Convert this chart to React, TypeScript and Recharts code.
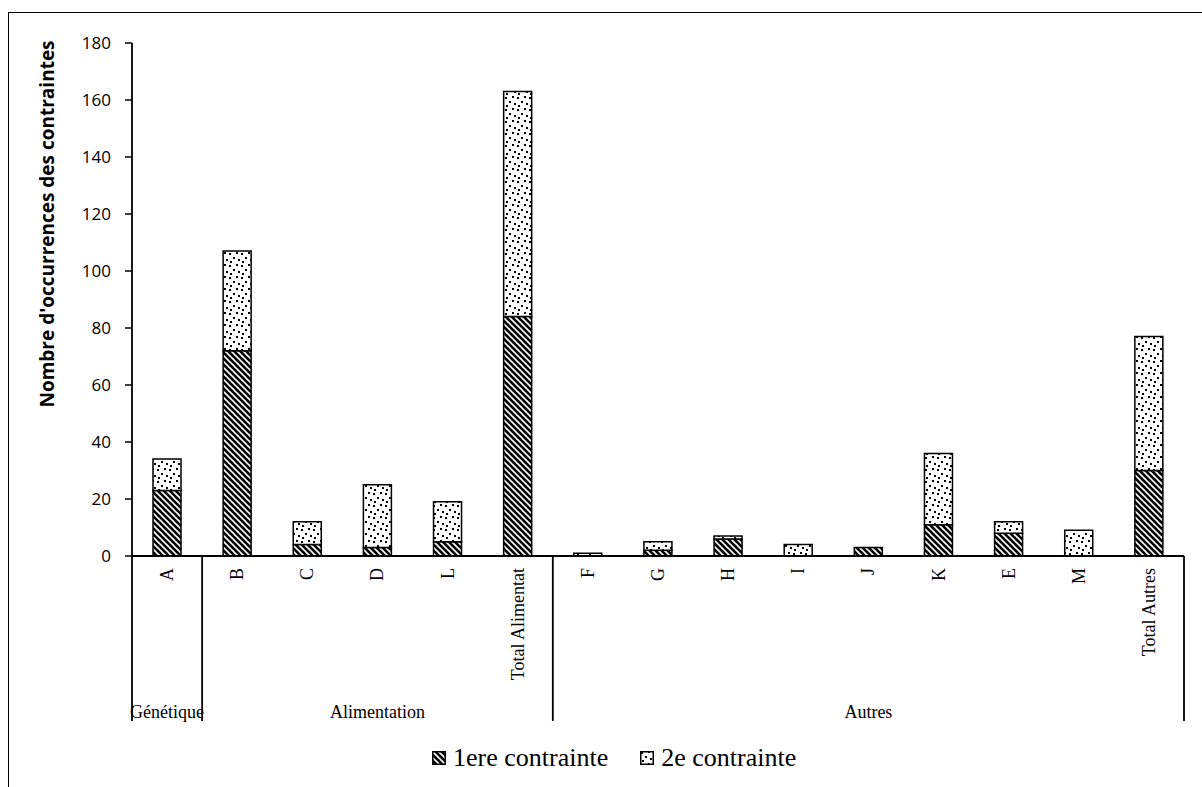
import React from 'react'
import { BarChart, Bar, XAxis, YAxis, Customized } from 'recharts'

const categories = ['A', 'B', 'C', 'D', 'L', 'Total Alimentat', 'F', 'G', 'H', 'I', 'J', 'K', 'E', 'M', 'Total Autres']
const groupOf = ['Génétique', 'Alimentation', 'Alimentation', 'Alimentation', 'Alimentation', 'Alimentation',
  'Autres', 'Autres', 'Autres', 'Autres', 'Autres', 'Autres', 'Autres', 'Autres', 'Autres']
const premiere = [23, 72, 4, 3, 5, 84, 0, 2, 6, 0, 3, 11, 8, 0, 30]
const deuxieme = [11, 35, 8, 22, 14, 79, 1, 3, 1, 4, 0, 25, 4, 9, 47]
const yTicks = [0, 20, 40, 60, 80, 100, 120, 140, 160, 180]

const data = categories.map((name, i) => ({ name, premiere: premiere[i], deuxieme: deuxieme[i] }))

const W = 1202
const H = 787
const PLOT_LEFT = 132
const PLOT_RIGHT = 1184
const AXIS_Y = 556
const BAND = (PLOT_RIGHT - PLOT_LEFT) / categories.length
const SEP_BOTTOM = 721
const SERIF = '"Liberation Serif", "Times New Roman", serif'
const SANS = '"Open Sans", sans-serif'

// hatch = large downward diagonal, dots = sparse dotted fill
function Patterns({ prefix }: { prefix: string }) {
  return (
    <defs>
      <pattern id={`${prefix}hatch`} width="6" height="6" patternUnits="userSpaceOnUse">
        <rect width="6" height="6" fill="#000" />
        <path d="M-1.5,-1.5 L7.5,7.5" stroke="#fff" strokeWidth="1.6" />
        <path d="M-1.5,4.5 L1.5,7.5 M4.5,-1.5 L7.5,1.5" stroke="#fff" strokeWidth="1.6" />
      </pattern>
      <pattern id={`${prefix}dots`} width="12" height="12" patternUnits="userSpaceOnUse">
        <rect width="12" height="12" fill="#fff" />
        <rect x="1" y="1" width="2" height="2" fill="#000" />
        <rect x="8" y="0" width="2" height="2" fill="#000" />
        <rect x="5" y="5" width="2" height="2" fill="#000" />
        <rect x="10" y="7" width="2" height="2" fill="#000" />
        <rect x="2" y="9" width="2" height="2" fill="#000" />
      </pattern>
    </defs>
  )
}

function CategoryTick(props: any) {
  const { x, y, payload } = props
  const i = payload.index
  const half = BAND / 2
  const group = groupOf[i]
  const startsGroup = i === 0 || groupOf[i - 1] !== group
  const isLast = i === categories.length - 1
  let count = 0
  for (let k = i; k < groupOf.length && groupOf[k] === group; k++) count++
  const groupCenter = x - half + (count * BAND) / 2
  return (
    <g>
      <text
        x={x}
        y={y}
        transform={`rotate(-90 ${x} ${y})`}
        textAnchor="end"
        dominantBaseline="central"
        fontFamily={SERIF}
        fontSize={18}
        fill="#000"
      >
        {payload.value}
      </text>
      {startsGroup && (
        <line x1={x - half} x2={x - half} y1={AXIS_Y} y2={SEP_BOTTOM} stroke="#000" strokeWidth={1.8} />
      )}
      {isLast && (
        <line x1={x + half} x2={x + half} y1={AXIS_Y} y2={SEP_BOTTOM} stroke="#000" strokeWidth={1.8} />
      )}
      {startsGroup && (
        <text x={groupCenter} y={712} textAnchor="middle" dominantBaseline="central" fontFamily={SERIF} fontSize={18} fill="#000">
          {group}
        </text>
      )}
    </g>
  )
}

function YLabel() {
  return (
    <text
      x={47}
      y={224}
      transform="rotate(-90 47 224)"
      textAnchor="middle"
      dominantBaseline="central"
      fontFamily={SANS}
      fontWeight="bold"
      fontSize={19}
      fill="#000"
    >
      Nombre d'occurrences des contraintes
    </text>
  )
}

function LegendItem({ id, label }: { id: string; label: string }) {
  return (
    <span style={{ display: 'inline-flex', alignItems: 'center', marginRight: 32 }}>
      <svg width={14} height={14} style={{ marginRight: 7 }}>
        <rect x={0.75} y={0.75} width={12.5} height={12.5} fill={`url(#lg${id})`} stroke="#000" strokeWidth={1.5} />
      </svg>
      {label}
    </span>
  )
}

export default function App() {
  return (
    <div style={{ position: 'fixed', left: 0, top: 0, width: W, height: H, overflow: 'hidden', background: '#fff' }}>
      <div
        style={{
          position: 'absolute',
          left: 8,
          top: 12,
          width: W + 20,
          height: H + 20,
          borderLeft: '1.5px solid #000',
          borderTop: '1.5px solid #000',
        }}
      />
      <svg width={0} height={0} style={{ position: 'absolute' }}>
        <Patterns prefix="lg" />
      </svg>
      <div style={{ position: 'absolute', left: 0, top: 0 }}>
        <BarChart
          width={W}
          height={H}
          data={data}
          margin={{ top: 43, right: W - PLOT_RIGHT, left: PLOT_LEFT - 60, bottom: H - AXIS_Y - 30 }}
          barSize={28}
        >
          <Patterns prefix="c" />
          <XAxis
            dataKey="name"
            height={30}
            interval={0}
            tickLine={false}
            tickSize={0}
            tickMargin={12}
            axisLine={{ stroke: '#000', strokeWidth: 1.8 }}
            tick={<CategoryTick />}
          />
          <YAxis
            width={60}
            domain={[0, 180]}
            ticks={yTicks}
            tickSize={7}
            tickMargin={14}
            axisLine={{ stroke: '#000', strokeWidth: 1.8 }}
            tickLine={{ stroke: '#000', strokeWidth: 1.5 }}
            tick={{ fill: '#000', fontFamily: SANS, fontSize: 17 }}
          />
          <Bar dataKey="premiere" stackId="s" fill="url(#chatch)" stroke="#000" strokeWidth={1.5} isAnimationActive={false} />
          <Bar dataKey="deuxieme" stackId="s" fill="url(#cdots)" stroke="#000" strokeWidth={1.5} isAnimationActive={false} />
          <Customized component={YLabel} />
        </BarChart>
      </div>
      <div
        style={{
          position: 'absolute',
          left: 432,
          top: 742,
          fontFamily: SERIF,
          fontSize: 26,
          lineHeight: '30px',
          color: '#000',
          whiteSpace: 'nowrap',
        }}
      >
        <LegendItem id="hatch" label="1ere contrainte" />
        <LegendItem id="dots" label="2e contrainte" />
      </div>
    </div>
  )
}
